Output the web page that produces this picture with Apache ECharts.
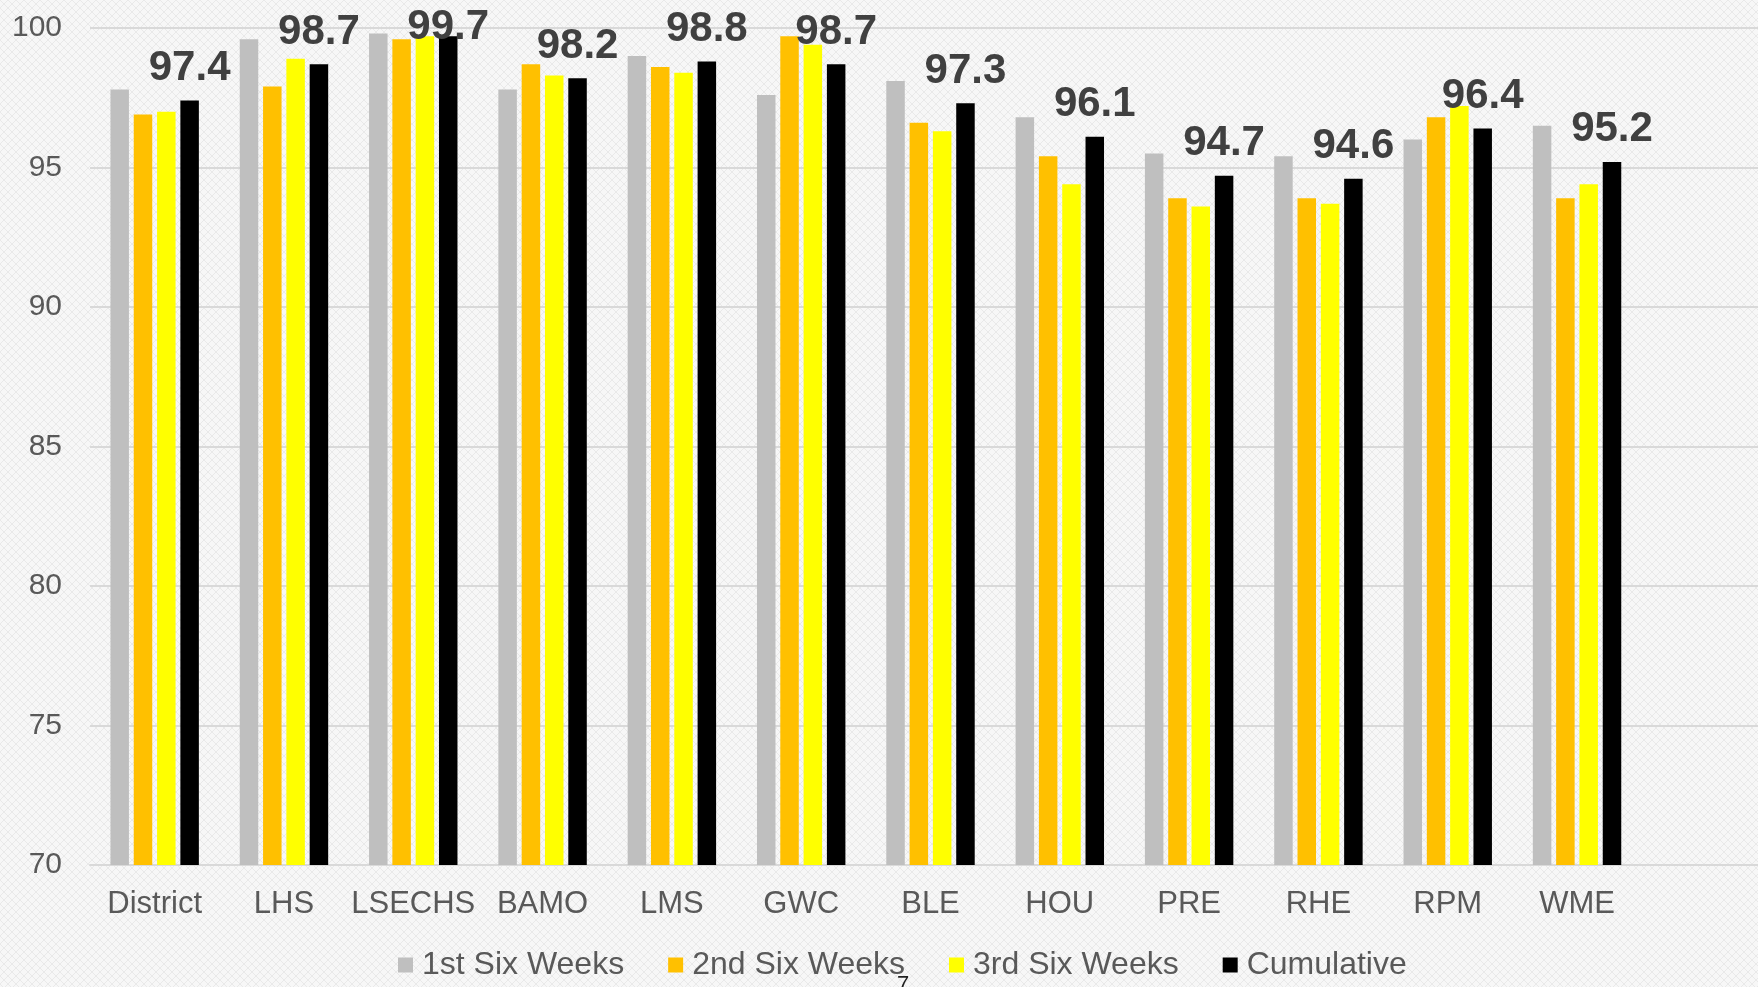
<!DOCTYPE html>
<html>
<head>
<meta charset="utf-8">
<script src="https://cdn.jsdelivr.net/npm/echarts@6/dist/echarts.min.js"></script>
<style>
html,body{margin:0;padding:0;background:#f3f3f3;}
#chart{width:1758px;height:987px;}
</style>
</head>
<body>
<div id="chart"></div>
<script>
const categories = ['District','LHS','LSECHS','BAMO','LMS','GWC','BLE','HOU','PRE','RHE','RPM','WME',''];
const seriesNames = ['1st Six Weeks','2nd Six Weeks','3rd Six Weeks','Cumulative'];
const firstSix = [97.8, 99.6, 99.8, 97.8, 99.0, 97.6, 98.1, 96.8, 95.5, 95.4, 96.0, 96.5];
const secondSix = [96.9, 97.9, 99.6, 98.7, 98.6, 99.7, 96.6, 95.4, 93.9, 93.9, 96.8, 93.9];
const thirdSix = [97.0, 98.9, 99.7, 98.3, 98.4, 99.4, 96.3, 94.4, 93.6, 93.7, 97.2, 94.4];
const cumulative = [97.4, 98.7, 99.7, 98.2, 98.8, 98.7, 97.3, 96.1, 94.7, 94.6, 96.4, 95.2];
const pageNumber = '7';

const FONT = "'Liberation Sans', Arial, sans-serif";
const colors = ['#bfbfbf', '#ffc000', '#ffff00', '#000000'];
const values = [firstSix, secondSix, thirdSix, cumulative];
const LABEL_MIN_TOP = 6;

// subtle cross-hatched paper texture for the background
function makeTexture() {
  const c = document.createElement('canvas');
  c.width = 16; c.height = 16;
  const g = c.getContext('2d');
  g.fillStyle = '#f7f7f7';
  g.fillRect(0, 0, 16, 16);
  g.strokeStyle = 'rgba(0,0,0,0.055)';
  g.lineWidth = 1;
  for (let k = -16; k <= 32; k += 8) {
    g.beginPath(); g.moveTo(k, 0); g.lineTo(k + 16, 16); g.stroke();
    g.beginPath(); g.moveTo(k, 16); g.lineTo(k + 16, 0); g.stroke();
  }
  return c;
}
let bg = '#f3f3f3';
try { bg = {image: makeTexture(), repeat: 'repeat'}; } catch (e) {}

const chart = echarts.init(document.getElementById('chart'), null, {renderer: 'canvas'});
chart.setOption({
  animation: false,
  backgroundColor: bg,
  textStyle: {fontFamily: FONT},
  grid: {left: 90, width: 1681, top: 28, bottom: 122, containLabel: false, outerBoundsMode: 'none'},
  legend: {
    data: seriesNames,
    left: 393,
    top: 944,
    itemWidth: 15,
    itemHeight: 15,
    itemGap: 44,
    icon: 'rect',
    textStyle: {fontSize: 32, color: '#595959', fontFamily: FONT, padding: [0, 0, 0, 4]}
  },
  xAxis: {
    type: 'category',
    data: categories,
    axisLine: {show: true, lineStyle: {color: '#d9d9d9', width: 2}},
    axisTick: {show: false},
    axisLabel: {fontSize: 31, color: '#595959', margin: 24, fontFamily: FONT, interval: 0}
  },
  yAxis: {
    type: 'value',
    min: 70,
    max: 100,
    interval: 5,
    axisLine: {show: false},
    axisTick: {show: false},
    splitLine: {lineStyle: {color: '#d9d9d9', width: 2}},
    axisLabel: {fontSize: 30, color: '#595959', margin: 28, fontFamily: FONT}
  },
  graphic: [{
    type: 'text', left: 897, top: 974,
    style: {text: pageNumber, fontSize: 22, fill: '#1f1f1f', fontFamily: FONT}
  }],
  series: seriesNames.map((name, i) => ({
    name: name,
    type: 'bar',
    data: values[i],
    barWidth: 18.5,
    barGap: '26%',
    itemStyle: {color: colors[i]},
    label: i === 3 ? {
      show: true, position: 'top', distance: 11,
      fontSize: 42, fontWeight: 'bold', color: '#404040', fontFamily: FONT,
      formatter: p => p.value.toFixed(1)
    } : {show: false},
    labelLayout: i === 3 ? function (params) {
      const top = params.labelRect.y;
      return top < LABEL_MIN_TOP ? {dy: LABEL_MIN_TOP - top} : {};
    } : undefined
  }))
});
</script>
</body>
</html>
